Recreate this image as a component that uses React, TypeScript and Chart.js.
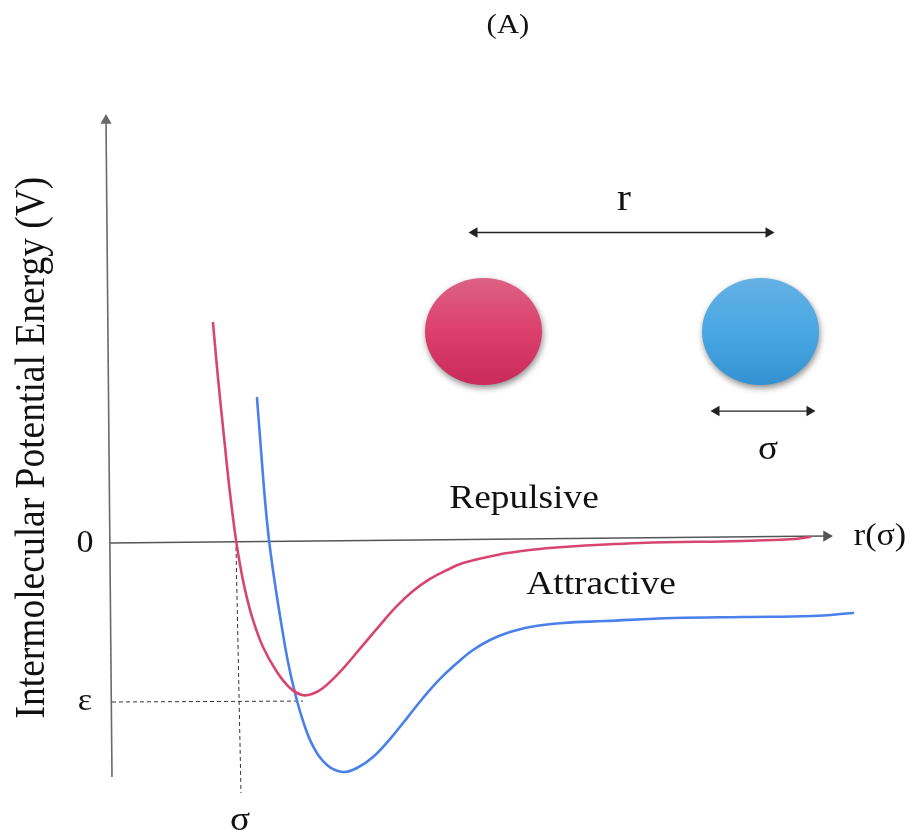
import React, { useEffect, useRef } from "react";
import { Chart, registerables } from "chart.js";

Chart.register(...registerables);

// Units: r measured from the V axis (≈ σ units), V in units of ε (ε = -1)
const repulsiveR = [0.824, 0.864, 0.912, 0.96, 1.008, 1.048, 1.088, 1.144, 1.224, 1.336, 1.44, 1.536, 1.616, 1.704, 1.84, 2.024, 2.16, 2.296, 2.424, 2.56, 2.696, 2.824, 3.096, 3.36, 3.624, 4.24, 5.064, 5.48, 5.6];
const repulsiveV = [1.384, 1.038, 0.667, 0.314, 0.019, -0.170, -0.321, -0.484, -0.654, -0.811, -0.912, -0.956, -0.950, -0.912, -0.811, -0.642, -0.516, -0.396, -0.302, -0.226, -0.170, -0.126, -0.075, -0.044, -0.025, 0.0, 0.013, 0.025, 0.038];

const attractiveR = [1.176, 1.208, 1.24, 1.272, 1.32, 1.376, 1.424, 1.48, 1.544, 1.624, 1.736, 1.864, 1.976, 2.104, 2.24, 2.376, 2.504, 2.64, 2.776, 2.904, 3.04, 3.176, 3.36, 3.624, 3.96, 4.512, 5.064, 5.616, 5.944];
const attractiveV = [0.912, 0.585, 0.27, 0.019, -0.258, -0.535, -0.748, -0.943, -1.119, -1.277, -1.396, -1.440, -1.415, -1.346, -1.233, -1.101, -0.975, -0.855, -0.755, -0.673, -0.610, -0.566, -0.528, -0.503, -0.491, -0.472, -0.465, -0.459, -0.44];

// axes and guides
const vAxisR = [0.016, -0.032];
const vAxisV = [-1.472, 2.657];
const rAxisR = [0.0, 5.732];
const rAxisV = [0.0, 0.044];
const sepArrowR = [2.916, 5.268];
const sepArrowV = [1.953, 1.953];
const sigmaArrowR = [4.852, 5.596];
const sigmaArrowV = [0.83, 0.83];
const sigmaGuideR = [1.008, 1.048];
const sigmaGuideV = [-0.025, -1.572];
const epsGuideR = [0.016, 1.544];
const epsGuideV = [-1.0, -0.994];

// molecules
const moleculeR = [2.988, 5.204];
const moleculeV = [1.33, 1.33];

// labels
const labelTexts = ["(A)", "r", "σ", "Repulsive", "Attractive", "0", "ε", "σ", "r(σ)"];
const labelR = [3.184, 4.112, 5.264, 3.312, 3.928, -0.2, -0.2, 1.04, 6.16];
const labelV = [3.252, 2.157, 0.585, 0.275, -0.262, -0.005, -1.0, -1.75, 0.04];
const yTitle = "Intermolecular Potential Energy (V)";
const yTitleR = -0.616;
const yTitleV = 0.6;

// styles (not data)
const labelSizes = [28, 38, 34, 34, 34, 31, 31, 34, 31];
const SERIF = '"Liberation Serif", "DejaVu Serif", serif';
const STRETCH = 1.1;

const pts = (xs: number[], ys: number[]) => xs.map((x, i) => ({ x, y: ys[i] }));

export default function App() {
  const ref = useRef<HTMLCanvasElement | null>(null);

  useEffect(() => {
    const canvas = ref.current;
    if (!canvas) return;

    const molecules = {
      id: "molecules",
      beforeDatasetsDraw(chart: any) {
        const { ctx, scales } = chart;
        const palettes = [
          ["#dc6185", "#dc3f6d", "#c92a5b"],
          ["#65b0e4", "#49a8e3", "#3391d1"],
        ];
        moleculeR.forEach((r, i) => {
          const cx = scales.x.getPixelForValue(r);
          const cy = scales.y.getPixelForValue(moleculeV[i]);
          const rx = 58.5;
          const ry = 53.5;
          ctx.save();
          const g = ctx.createLinearGradient(0, cy - ry, 0, cy + ry);
          g.addColorStop(0, palettes[i][0]);
          g.addColorStop(0.5, palettes[i][1]);
          g.addColorStop(1, palettes[i][2]);
          ctx.shadowColor = "rgba(0,0,0,0.45)";
          ctx.shadowBlur = 6;
          ctx.shadowOffsetX = 1;
          ctx.shadowOffsetY = 3;
          ctx.fillStyle = g;
          ctx.beginPath();
          ctx.ellipse(cx, cy, rx, ry, 0, 0, Math.PI * 2);
          ctx.fill();
          ctx.restore();
        });
      },
    };

    const labels = {
      id: "labels",
      afterDatasetsDraw(chart: any) {
        const { ctx, scales } = chart;
        ctx.save();
        ctx.fillStyle = "#111";
        ctx.textAlign = "center";
        ctx.textBaseline = "middle";
        labelTexts.forEach((t, i) => {
          const px = scales.x.getPixelForValue(labelR[i]);
          const py = scales.y.getPixelForValue(labelV[i]);
          ctx.save();
          ctx.translate(px, py);
          ctx.scale(STRETCH, 1);
          ctx.font = `${labelSizes[i]}px ${SERIF}`;
          ctx.fillText(t, 0, 0);
          ctx.restore();
        });
        const tx = scales.x.getPixelForValue(yTitleR);
        const ty = scales.y.getPixelForValue(yTitleV);
        ctx.save();
        ctx.translate(tx, ty);
        ctx.scale(STRETCH, 1);
        ctx.rotate(-Math.PI / 2);
        ctx.font = `37.5px ${SERIF}`;
        ctx.fillText(yTitle, 0, 0);
        ctx.restore();
        ctx.restore();
      },
    };

    const arrowDs = (data: any[], color: string, width: number, radii: number[], rot: number[]) => ({
      data,
      borderColor: color,
      borderWidth: width,
      backgroundColor: color,
      pointBackgroundColor: color,
      pointBorderColor: color,
      pointBorderWidth: 0,
      pointStyle: "triangle",
      pointRadius: radii,
      pointRotation: rot,
      showLine: true,
      tension: 0,
    });

    const curve = (label: string, data: any[], color: string) => ({
      label,
      data,
      borderColor: color,
      borderWidth: 2.6,
      pointRadius: 0,
      showLine: true,
      tension: 0.4,
      borderCapStyle: "round",
      borderJoinStyle: "round",
    });

    const chart = new Chart(canvas, {
      type: "scatter",
      data: {
        datasets: [
          curve("Repulsive", pts(repulsiveR, repulsiveV), "#d8456f") as any,
          curve("Attractive", pts(attractiveR, attractiveV), "#4a80ea") as any,
          {
            label: "σ guide",
            data: pts(sigmaGuideR, sigmaGuideV),
            borderColor: "#333",
            borderWidth: 1,
            borderDash: [4, 3],
            pointRadius: 0,
            showLine: true,
          },
          {
            label: "ε guide",
            data: pts(epsGuideR, epsGuideV),
            borderColor: "#333",
            borderWidth: 1,
            borderDash: [4, 3],
            pointRadius: 0,
            showLine: true,
          },
          arrowDs(pts(vAxisR, vAxisV), "#6a6a6a", 1.6, [0, 6.5], [0, -0.5]) as any,
          arrowDs(pts(rAxisR, rAxisV), "#555", 1.4, [0, 6.5], [0, 90]) as any,
          arrowDs(pts(sepArrowR, sepArrowV), "#222", 1.3, [6, 6], [-90, 90]) as any,
          arrowDs(pts(sigmaArrowR, sigmaArrowV), "#222", 1.3, [6, 6], [-90, 90]) as any,
        ],
      },
      options: {
        animation: false,
        responsive: false,
        devicePixelRatio: 1,
        layout: { padding: 0, autoPadding: false },
        plugins: {
          legend: { display: false },
          tooltip: { enabled: false },
          title: { display: false },
        },
        events: [],
        scales: {
          x: { type: "linear", min: -0.88, max: 6.432, display: false },
          y: { type: "linear", min: -1.8616, max: 3.4151, display: false },
        },
      },
      plugins: [molecules, labels],
    });

    return () => chart.destroy();
  }, []);

  return (
    <div>
      <canvas ref={ref} width={914} height={839} style={{ display: "block", width: 914, height: 839, margin: -8 }} />
    </div>
  );
}
